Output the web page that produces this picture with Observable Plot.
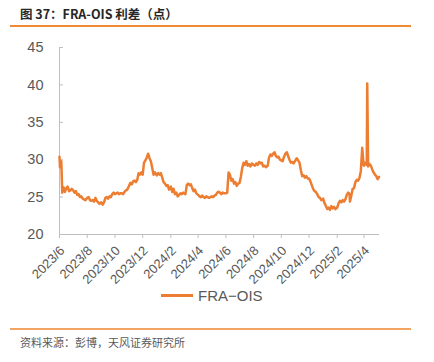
<!DOCTYPE html>
<html>
<head>
<meta charset="utf-8">
<script src="https://cdn.jsdelivr.net/npm/d3@7"></script>
<script src="https://cdn.jsdelivr.net/npm/@observablehq/plot@0.6"></script>
<style>
  html, body { margin: 0; padding: 0; background: #fff; }
  #wrap { position: relative; width: 434px; height: 362px; overflow: hidden; font-family: "Liberation Sans", Arial, sans-serif; }
  #title { position: absolute; left: 20px; top: 5px; font-family: "Noto Sans CJK SC", sans-serif; font-weight: bold; font-size: 12.5px; color: #262626; line-height: 18px; white-space: nowrap; }
  .rule { position: absolute; left: 10px; width: 401px; background: #F08A34; }
  #rule1 { top: 25px; height: 1.5px; }
  #rule2 { top: 328px; height: 1.5px; background: #F4A462; }
  #chart { position: absolute; left: 0; top: 30px; }
  #legend { position: absolute; left: 161px; top: 284px; height: 22px; display: flex; align-items: center; gap: 5px; font-family: "Liberation Sans", Arial, sans-serif; font-size: 15px; color: #595959; white-space: nowrap; }
  #legend .sw { width: 32px; height: 3px; background: #ED7D31; }
  #caption { position: absolute; left: 20px; top: 334px; font-family: "Noto Sans CJK SC", sans-serif; font-size: 11px; color: #595959; line-height: 16px; white-space: nowrap; }
</style>
</head>
<body>
<div id="wrap">
  <div id="title">图 37：FRA-OIS 利差（点）</div>
  <div class="rule" id="rule1"></div>
  <div id="chart"></div>
  <div id="legend"><span class="sw"></span><span>FRA−OIS</span></div>
  <div class="rule" id="rule2"></div>
  <div id="caption">资料来源：彭博，天风证券研究所</div>
</div>
<script>
// ---- Data ----
const seriesName = "FRA−OIS";
const months = ["2023-06","2023-07","2023-08","2023-09","2023-10","2023-11","2023-12",
  "2024-01","2024-02","2024-03","2024-04","2024-05","2024-06","2024-07","2024-08","2024-09",
  "2024-10","2024-11","2024-12","2025-01","2025-02","2025-03","2025-04","2025-05"];
const sampleDays = [1, 4, 7, 10, 13, 16, 19, 22, 25, 28];
const monthlyValues = [
  [30.4, 29.3, 25.6, 26.3, 25.7, 26.2, 26.4, 25.8, 25.9, 26.1],
  [25.9, 25.6, 25.8, 25.3, 25.4, 25.0, 25.1, 24.8, 24.7, 24.6],
  [24.9, 25.0, 24.6, 24.5, 24.6, 24.4, 24.9, 24.5, 24.3, 24.1],
  [24.3, 24.0, 24.3, 24.9, 25.0, 24.8, 25.1, 25.0, 25.4, 25.6],
  [25.4, 25.5, 25.6, 25.4, 25.5, 25.5, 25.4, 25.7, 25.9, 26.0],
  [26.5, 26.9, 26.7, 27.1, 27.2, 27.0, 27.3, 28.2, 28.0, 28.3],
  [28.0, 29.6, 29.9, 30.3, 30.8, 30.2, 29.8, 28.9, 28.0, 28.3],
  [27.9, 28.2, 28.0, 28.2, 27.6, 27.0, 26.8, 26.5, 26.6, 26.0],
  [26.4, 25.7, 26.1, 25.4, 25.6, 25.1, 25.3, 25.5, 25.4, 25.6],
  [25.5, 25.4, 26.6, 26.8, 26.6, 26.7, 26.2, 25.8, 26.0, 25.5],
  [25.3, 25.1, 25.0, 25.2, 25.0, 24.9, 25.1, 25.0, 24.9, 25.0],
  [25.1, 25.0, 25.2, 25.3, 25.6, 25.7, 25.6, 25.4, 25.6, 25.5],
  [25.5, 25.6, 28.3, 28.0, 27.2, 27.4, 26.8, 27.0, 26.5, 26.8],
  [26.9, 27.7, 28.9, 29.6, 29.3, 29.8, 29.2, 29.4, 29.1, 29.5],
  [29.3, 29.2, 29.5, 29.3, 29.7, 29.5, 29.6, 29.1, 29.2, 29.0],
  [29.2, 30.3, 30.7, 30.5, 30.8, 31.0, 30.5, 30.3, 30.4, 30.0],
  [29.9, 29.8, 30.4, 30.8, 31.0, 30.5, 30.0, 29.6, 29.7, 29.5],
  [29.9, 30.2, 29.9, 29.6, 28.6, 27.8, 27.9, 27.6, 27.8, 27.5],
  [27.5, 27.1, 26.6, 26.1, 25.8, 25.7, 25.4, 25.0, 24.9, 24.6],
  [24.8, 24.2, 23.8, 23.4, 23.6, 23.3, 23.8, 23.5, 23.7, 23.4],
  [23.6, 24.2, 24.5, 24.3, 24.6, 24.4, 24.7, 25.3, 25.6, 25.4],
  [24.4, 25.2, 26.1, 26.2, 27.0, 27.3, 27.2, 27.6, 28.5, 31.6],
  [29.2, 29.6, 29.3, 29.1, 29.4, 29.2, 28.7, 28.3, 28.0, 27.8],
  [27.4, 27.7]
];
const extraDates = ["2023-06-02", "2023-06-05", "2025-03-31", "2025-04-08"];
const extraValues = [29.0, 29.8, 29.3, 40.2];
const xTickLabels = ["2023/6","2023/8","2023/10","2023/12","2024/2","2024/4",
  "2024/6","2024/8","2024/10","2024/12","2025/2","2025/4"];
const yTicks = [20, 25, 30, 35, 40, 45];
const xDomain = ["2023-06-01", "2025-05-05"];

// ---- Build table ----
const rows = [];
months.forEach((m, i) => {
  monthlyValues[i].forEach((v, j) => {
    const d = String(sampleDays[j]).padStart(2, "0");
    rows.push({date: new Date(`${m}-${d}T00:00:00Z`), value: v});
  });
});
extraDates.forEach((d, i) => rows.push({date: new Date(`${d}T00:00:00Z`), value: extraValues[i]}));
rows.sort((a, b) => a.date - b.date);

const tickDates = xTickLabels.map(s => {
  const [y, m] = s.split("/").map(Number);
  return new Date(Date.UTC(y, m - 1, 1));
});
const labelOf = d => `${d.getUTCFullYear()}/${d.getUTCMonth() + 1}`;

const W = 434, H = 255;
const mL = 59, mR = 55, mT = 17, mB = 51;
const axisColor = "#BFBFBF";
const textColor = "#595959";

const chart = Plot.plot({
  width: W,
  height: H,
  marginTop: mT, marginBottom: mB, marginLeft: mL, marginRight: mR,
  style: {fontFamily: '"Liberation Sans", Arial, sans-serif', background: "transparent", overflow: "visible"},
  x: {type: "utc", domain: xDomain.map(s => new Date(s + "T00:00:00Z"))},
  y: {domain: [20, 45]},
  marks: [
    Plot.ruleX([new Date(xDomain[0] + "T00:00:00Z")], {stroke: axisColor, strokeWidth: 1}),
    Plot.tickY(yTicks, {y: d => d, stroke: axisColor, insetRight: W - mL - mR - 4}),
    Plot.axisY({ticks: yTicks, tickSize: 0, tickPadding: 16, fill: textColor, fontSize: 14.5, label: null}),
    Plot.axisX({ticks: tickDates, tickFormat: () => null, tickSize: 4, stroke: axisColor, label: null}),
    Plot.axisX({ticks: tickDates, tickFormat: labelOf, tickRotate: -45, tickSize: 0, tickPadding: 14, dx: 3,
      fill: textColor, fontSize: 13, label: null}),
    Plot.ruleY([20], {stroke: axisColor, strokeWidth: 1.2}),
    Plot.line(rows, {x: "date", y: "value", stroke: "#ED7D31", strokeWidth: 2.5, strokeLinejoin: "round"})
  ]
});
document.getElementById("chart").appendChild(chart);
</script>
</body>
</html>
